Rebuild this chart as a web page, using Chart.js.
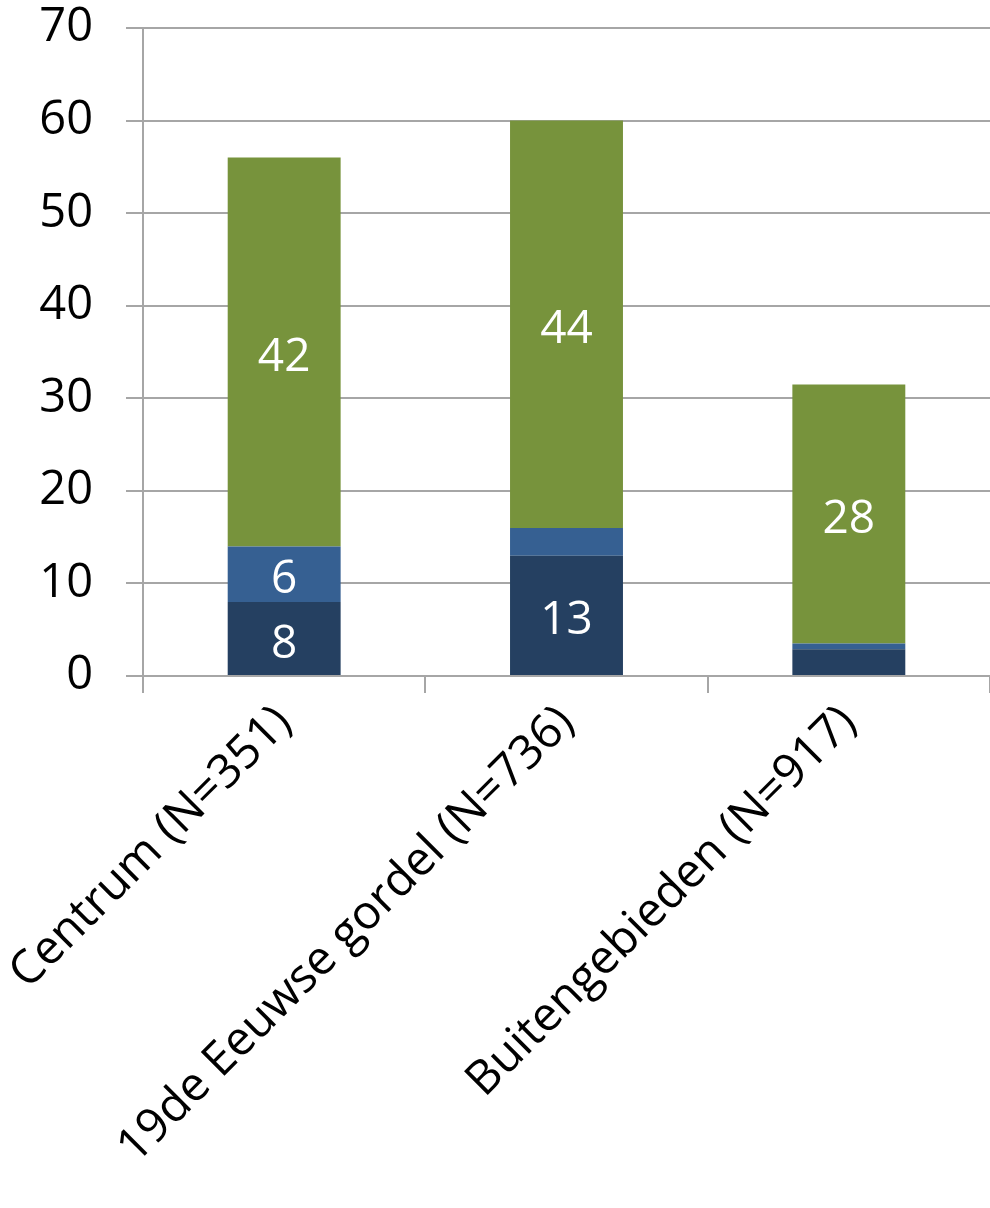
<!DOCTYPE html>
<html>
<head>
<meta charset="utf-8">
<script src="https://cdn.jsdelivr.net/npm/chart.js@4/dist/chart.umd.min.js"></script>
<style>
  html, body { margin: 0; padding: 0; background: #ffffff; }
  #wrap { width: 990px; height: 1208px; position: relative; }
</style>
</head>
<body>
<div id="wrap"><canvas id="c" width="990" height="1208"></canvas></div>
<script>
// Categories and stacked series (percentages)
const categories = ['Centrum (N=351)', '19de Eeuwse gordel (N=736)', 'Buitengebieden (N=917)'];
const seriesDark  = [8, 13, 2.9];
const seriesBlue  = [6, 3, 0.6];
const seriesGreen = [42, 44, 28];
const yTicks = [0, 10, 20, 30, 40, 50, 60, 70];

const FONT = '"Open Sans", "Noto Sans", sans-serif';

// Draws the value inside each segment that is tall enough to hold it
const segmentLabels = {
  id: 'segmentLabels',
  afterDatasetsDraw(chart) {
    const ctx = chart.ctx;
    ctx.save();
    ctx.fillStyle = '#ffffff';
    ctx.font = '46px ' + FONT;
    ctx.textAlign = 'center';
    ctx.textBaseline = 'middle';
    chart.data.datasets.forEach((ds, di) => {
      const meta = chart.getDatasetMeta(di);
      meta.data.forEach((bar, i) => {
        const v = ds.data[i];
        if (v < 4) return;
        const yMid = (bar.y + bar.base) / 2;
        ctx.fillText(String(v), bar.x, yMid + 6);
      });
    });
    ctx.restore();
  }
};

// Fixed axis sizes, no extra room reserved for overhanging labels
function fixBox(scale, w, h) {
  if (w !== null) scale.width = w;
  if (h !== null) scale.height = h;
  scale.paddingTop = 0;
  scale.paddingBottom = 0;
  scale.paddingLeft = 0;
  scale.paddingRight = 0;
}

new Chart(document.getElementById('c'), {
  type: 'bar',
  data: {
    labels: categories,
    datasets: [
      { data: seriesDark,  backgroundColor: '#254061' },
      { data: seriesBlue,  backgroundColor: '#366092' },
      { data: seriesGreen, backgroundColor: '#77933C' }
    ]
  },
  options: {
    responsive: false,
    animation: false,
    devicePixelRatio: 1,
    layout: { padding: { top: 28, right: 0, left: 0, bottom: 0 } },
    datasets: { bar: { barPercentage: 0.4, categoryPercentage: 1.0 } },
    plugins: { legend: { display: false }, tooltip: { enabled: false } },
    scales: {
      x: {
        stacked: true,
        offset: true,
        grid: { drawOnChartArea: false, drawTicks: true, tickLength: 17, color: '#a6a6a6', lineWidth: 2, offset: true },
        border: { color: '#a6a6a6', width: 2 },
        ticks: { color: '#000000', font: { family: FONT, size: 47 }, minRotation: 45, maxRotation: 45, padding: 2, autoSkip: false },
        afterFit(scale) { fixBox(scale, null, 532); }
      },
      y: {
        stacked: true,
        min: 0,
        max: 70,
        afterBuildTicks(scale) { scale.ticks = yTicks.map(v => ({ value: v })); },
        grid: { color: '#a6a6a6', lineWidth: 2, tickLength: 17 },
        border: { color: '#a6a6a6', width: 2 },
        ticks: { color: '#000000', font: { family: FONT, size: 47 }, padding: 33 },
        afterFit(scale) { fixBox(scale, 143, null); }
      }
    }
  },
  plugins: [segmentLabels]
});
</script>
</body>
</html>
